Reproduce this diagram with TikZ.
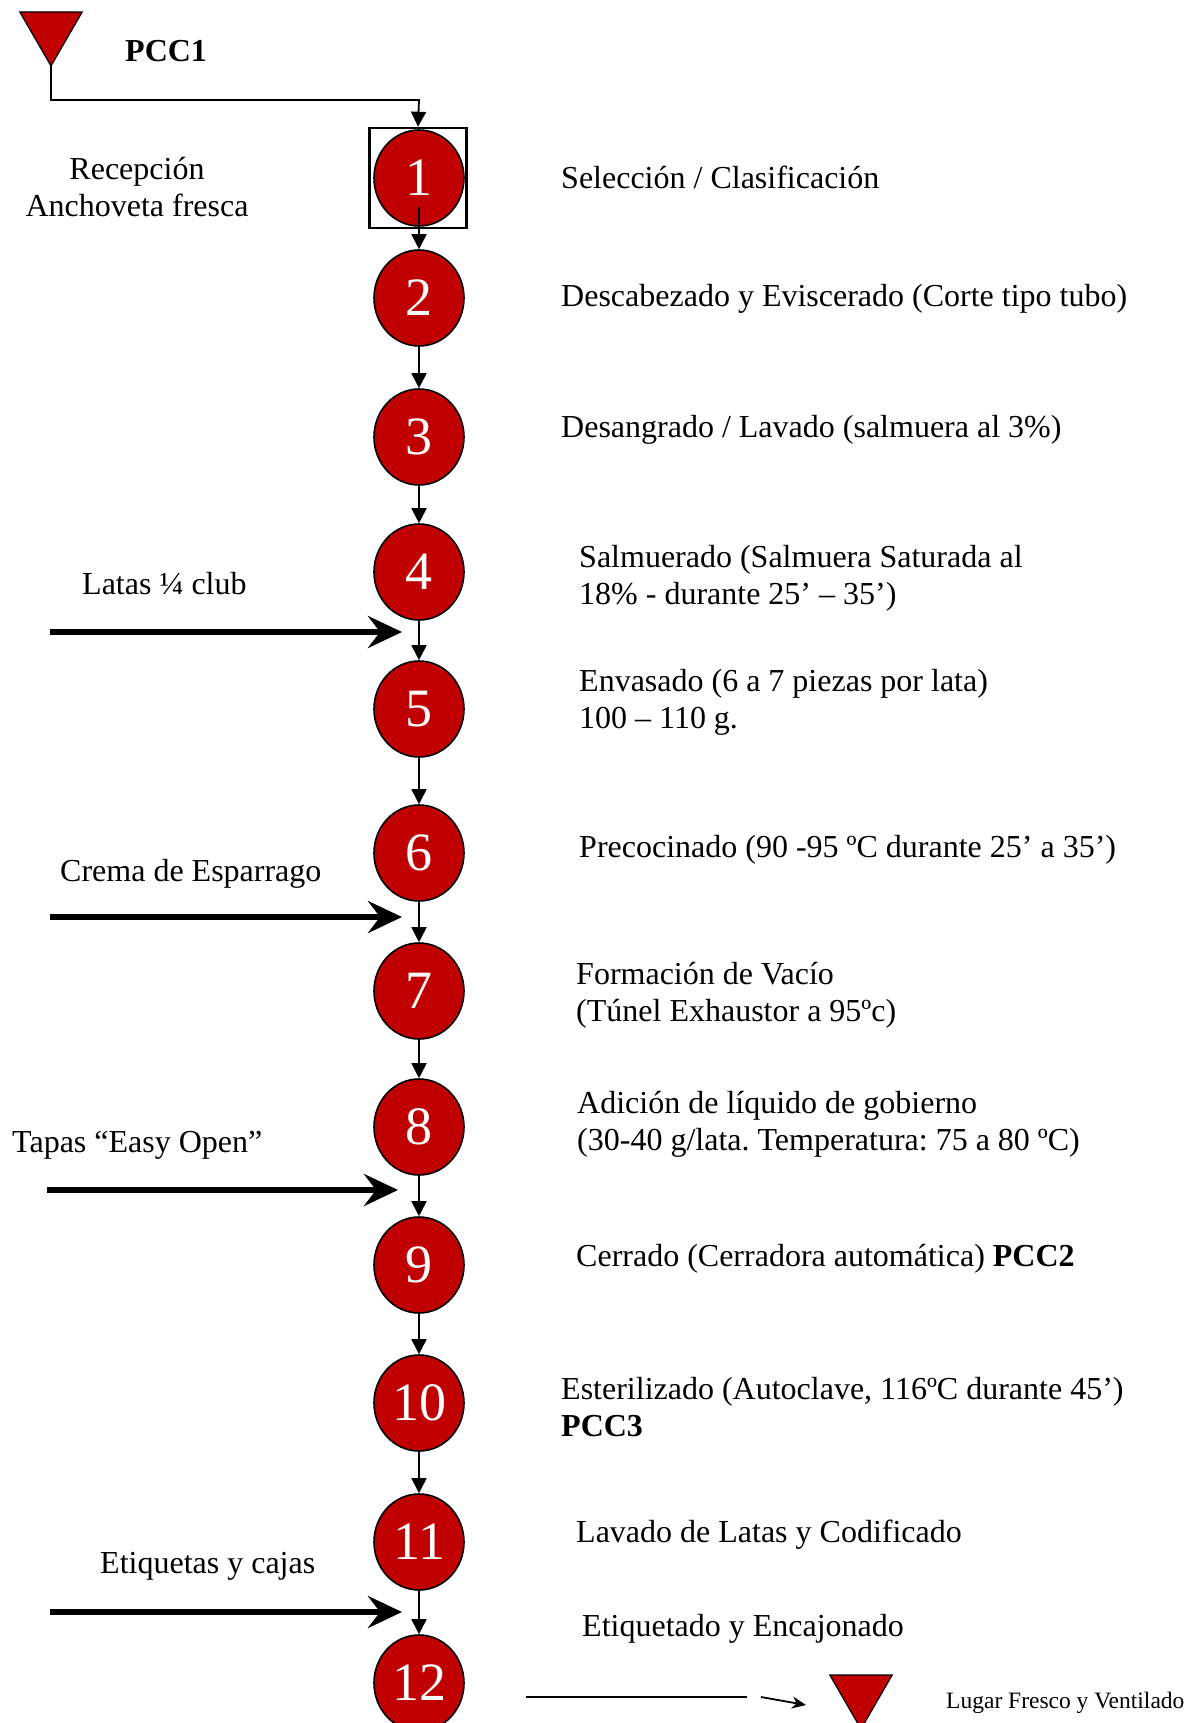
\documentclass[tikz,border=0pt]{standalone}
\usepackage{fontspec}
\setmainfont{Liberation Serif}
\frenchspacing
\usetikzlibrary{arrows.meta,positioning,shapes.geometric,calc}
\definecolor{stagered}{RGB}{192,0,0}
\tikzset{
  stage/.style={ellipse,draw=black,fill=stagered,line width=1.6pt,inner sep=0pt,
    minimum width=90pt,minimum height=96pt,text=white,
    font=\fontsize{54}{54}\selectfont},
  ccp/.style={regular polygon,regular polygon sides=3,shape border rotate=180,
    draw=black,fill=stagered,line width=1.2pt,inner sep=0pt,outer sep=0pt,
    minimum size=72pt},
  note/.style={anchor=west,inner sep=0pt,align=left,
    font=\fontsize{32}{37}\selectfont},
  smallnote/.style={note,font=\fontsize{23.5}{27}\selectfont},
  flow/.style={-{Triangle[length=15pt,width=15pt]},line width=1.8pt},
  feed/.style={-{Stealth[length=34pt,width=32pt,inset=12pt]},line width=6.5pt},
}
\begin{document}
\begin{tikzpicture}[x=1pt,y=-1pt]
  \useasboundingbox (0,0) rectangle (1203,1723);
  % critical control point at the reception
  \node[ccp] (pcc1) at (51,30) {};
  \node[note,font=\fontsize{32}{37}\selectfont\bfseries] (pcc1lab) at (125,51) {PCC1};
  \node[draw=black,line width=2.5pt,minimum width=97pt,minimum height=100pt,
        inner sep=0pt] (box1) at (418,178) {};
  \node[note,align=center,anchor=center] (recep) at (137,187)
    {Recepción\\Anchoveta fresca};
  % process stages
  \foreach \i/\y in {1/178,2/298,3/437,4/572,5/709,6/853,7/991,8/1127,
      9/1265,10/1403,11/1542,12/1683}{
    \node[stage] (c\i) at (419,\y) {\i};}
  \coordinate (bend) at (419,100);
  \draw[flow] (pcc1.corner 1) |- (bend) -- (box1.north);
  \draw[flow] ($(c1.center)+(0,29)$) -- (c2);
  \foreach \a/\b in {2/3,3/4,4/5,5/6,6/7,7/8,8/9,9/10,10/11,11/12}{
    \draw[flow] (c\a) -- (c\b);}
  % stage descriptions
  \node[note] (d1)  at (561,177)  {Selección / Clasificación};
  \node[note] (d2)  at (561,299)  {Descabezado y Eviscerado (Corte tipo tubo)};
  \node[note] (d3)  at (561,430)  {Desangrado / Lavado (salmuera al 3\%)};
  \node[note] (d4)  at (579,578)  {Salmuerado (Salmuera Saturada al\\18\% - durante 25’ – 35’)};
  \node[note] (d5)  at (579,702)  {Envasado (6 a 7 piezas por lata)\\100 – 110 g.};
  \node[note] (d6)  at (579,850)  {Precocinado (90 -95 ºC durante 25’ a 35’)};
  \node[note] (d7)  at (576,995)  {Formación de Vacío\\(Túnel Exhaustor a 95ºc)};
  \node[note] (d8)  at (577,1124) {Adición de líquido de gobierno\\(30-40 g/lata. Temperatura: 75 a 80 ºC)};
  \node[note] (d9)  at (576,1259) {Cerrado (Cerradora automática) \textbf{PCC2}};
  \node[note] (d10) at (561,1407) {Esterilizado (Autoclave, 116ºC durante 45’)\\\textbf{PCC3}};
  \node[note] (d11) at (576,1535) {Lavado de Latas y Codificado};
  \node[note] (d12) at (582,1629) {Etiquetado y Encajonado};
  % incoming materials
  \foreach \n/\y/\xa/\xb in {lat/632/50/402,cre/917/50/402,tap/1190/47/398,eti/1612/50/402}{
    \coordinate (\n0) at (\xa,\y);
    \coordinate (\n1) at (\xb,\y);
    \draw[feed] (\n0) -- (\n1);}
  \node[note] (latas) at (82,584)   {Latas ¼ club};
  \node[note] (crema) at (60,874)   {Crema de Esparrago};
  \node[note] (tapas) at (12,1145)  {Tapas “Easy Open”};
  \node[note] (etiq)  at (100,1566) {Etiquetas y cajas};
  % storage
  \coordinate (out1) at (526,1697);
  \coordinate (out2) at (747,1697);
  \coordinate (out3) at (761,1697);
  \coordinate (out4) at (806,1705);
  \draw[line width=1.6pt] (out1) -- (out2);
  \draw[-{Stealth[length=14pt,width=12pt]},line width=1.8pt] (out3) -- (out4);
  \node[ccp] (store) at (861,1693) {};
  \node[smallnote] (lugar) at (946,1703) {Lugar Fresco y Ventilado};
\end{tikzpicture}
\end{document}
